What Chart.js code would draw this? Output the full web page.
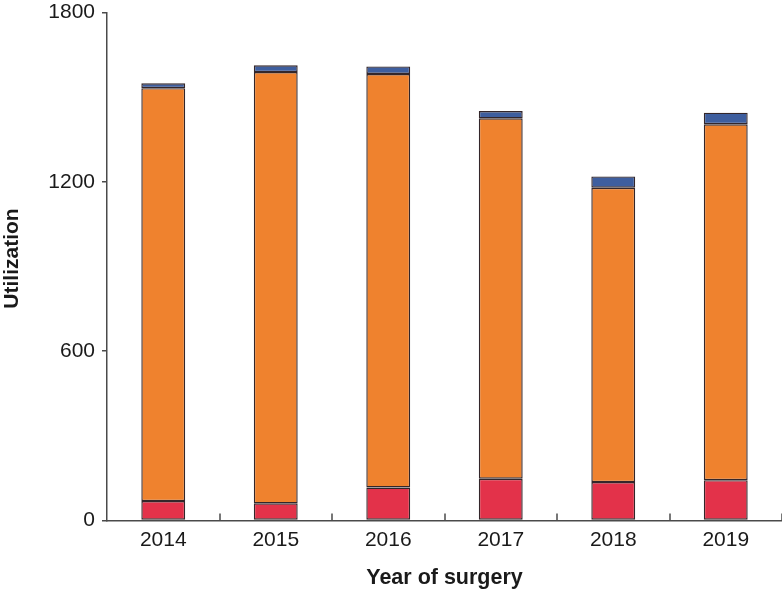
<!DOCTYPE html>
<html>
<head>
<meta charset="utf-8">
<script src="https://cdn.jsdelivr.net/npm/chart.js@4"></script>
<style>
html,body{margin:0;padding:0;background:#fff;}
canvas{display:block;}
</style>
</head>
<body>
<canvas id="c" width="782" height="594"></canvas>
<script>
const categories = ['2014','2015','2016','2017','2018','2019'];
const redValues = [69, 61, 117, 148, 136, 143];
const orangeValues = [1463, 1528, 1465, 1277, 1043, 1261];
const blueValues = [17, 24, 27, 26, 40, 41];
const yTicks = [0, 600, 1200, 1800];
const yTitle = 'Utilization';
const xTitle = 'Year of surgery';

const FONT = "'Liberation Sans', Arial, Helvetica, sans-serif";
const AXIS = '#4a4a4a';
const EDGE = '#33262a';

const extras = {
  id: 'extras',
  afterDraw(chart) {
    const x = chart.scales.x, ctx = chart.ctx;
    const y0 = chart.chartArea.bottom;
    ctx.save();
    ctx.strokeStyle = AXIS;
    ctx.lineWidth = 1.5;
    const n = categories.length;
    const step = n > 1 ? (x.getPixelForValue(1) - x.getPixelForValue(0)) : x.width;
    for (let i = 0; i < n; i++) {
      const px = Math.round(x.getPixelForValue(i) + step / 2);
      ctx.beginPath();
      ctx.moveTo(px, y0);
      ctx.lineTo(px, y0 - 7);
      ctx.stroke();
    }
    // y axis title
    ctx.translate(12, 258.5);
    ctx.rotate(-Math.PI / 2);
    ctx.fillStyle = '#1a1a1a';
    ctx.font = "bold 21px " + FONT;
    ctx.textAlign = 'center';
    ctx.textBaseline = 'middle';
    ctx.fillText(yTitle, 0, 0);
    ctx.restore();
  }
};

const common = {
  borderColor: EDGE,
  borderWidth: 1.4,
  borderSkipped: false,
  barPercentage: 0.39,
  categoryPercentage: 1.0
};

new Chart(document.getElementById('c'), {
  type: 'bar',
  data: {
    labels: categories,
    datasets: [
      Object.assign({ label: 'Red', data: redValues, backgroundColor: '#E3324A' }, common),
      Object.assign({ label: 'Orange', data: orangeValues, backgroundColor: '#EF822E' }, common),
      Object.assign({ label: 'Blue', data: blueValues, backgroundColor: '#3E5E9E' }, common)
    ]
  },
  options: {
    responsive: false,
    animation: false,
    devicePixelRatio: 1,
    layout: { padding: { top: 12.5, right: 0, bottom: 0, left: 0 } },
    plugins: { legend: { display: false }, tooltip: { enabled: false } },
    scales: {
      x: {
        stacked: true,
        grid: { display: true, drawOnChartArea: false, drawTicks: false, offset: true, color: 'rgba(0,0,0,0)' },
        border: { display: true, color: AXIS, width: 1.5 },
        ticks: { color: '#1a1a1a', font: { family: FONT, size: 21 }, padding: 7, maxRotation: 0 },
        title: { display: true, text: xTitle, color: '#1a1a1a', font: { family: FONT, size: 21.5, weight: 'bold' }, padding: { top: 0, bottom: 3 } },
        afterFit(scale) { scale.height = 73.5; scale.paddingLeft = 0; scale.paddingRight = 0; }
      },
      y: {
        stacked: true,
        min: 0,
        max: 1800,
        afterBuildTicks(scale) { scale.ticks = yTicks.map(v => ({ value: v })); },
        grid: { drawOnChartArea: false, drawTicks: true, tickLength: 5, color: AXIS, lineWidth: 1.5 },
        border: { display: true, color: AXIS, width: 1.5 },
        ticks: { color: '#1a1a1a', font: { family: FONT, size: 21 }, padding: 7, callback: (v) => String(v) },
        title: { display: false },
        afterFit(scale) { scale.width = 107; scale.paddingTop = 0; scale.paddingBottom = 0; }
      }
    }
  },
  plugins: [extras]
});
</script>
</body>
</html>
